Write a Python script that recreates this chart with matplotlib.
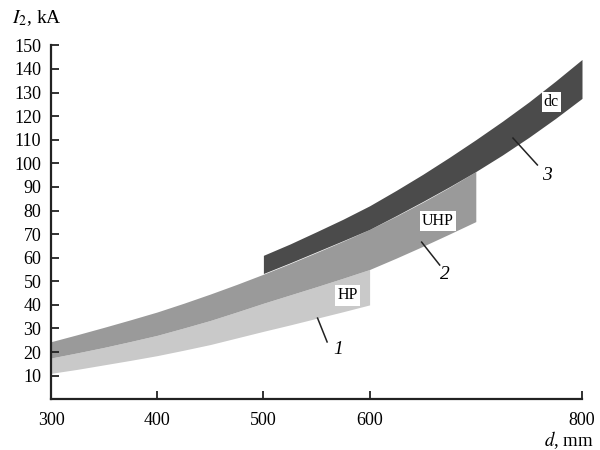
import matplotlib.pyplot as plt
import numpy as np

plt.rcParams['font.family'] = ['Liberation Serif', 'DejaVu Serif']
plt.rcParams['mathtext.fontset'] = 'stix'

# HP band (curve 1), d in mm, I2 in kA
hp_d = [300, 325, 350, 375, 400, 425, 450, 475, 500, 525, 550, 575, 600]
hp_low = [11.0, 12.7, 14.6, 16.5, 18.5, 20.8, 23.2, 26.0, 28.8, 31.5, 34.3, 37.1, 40.0]
hp_high = [17.5, 19.7, 22.0, 24.5, 27.1, 30.2, 33.4, 37.0, 40.7, 44.2, 47.7, 51.3, 55.0]

# UHP band (curve 2)
uhp_d = [300, 325, 350, 375, 400, 425, 450, 475, 500, 525, 550, 575, 600,
         625, 650, 675, 700]
uhp_low = [17.5, 19.7, 22.0, 24.5, 27.1, 30.2, 33.4, 37.0, 40.7, 44.2, 47.7, 51.3, 55.0,
           59.8, 64.8, 70.0, 75.3]
uhp_high = [24.4, 27.4, 30.5, 33.7, 37.0, 40.7, 44.6, 48.7, 53.0, 57.5, 62.2, 67.0, 72.0,
            77.6, 83.5, 89.8, 96.5]

# dc band (curve 3)
dc_d = [500, 525, 550, 575, 600, 625, 650, 675, 700, 725, 750, 775, 800]
dc_low = [53.3, 57.8, 62.5, 67.2, 72.0, 77.8, 83.8, 90.0, 96.5, 103.5, 111.0, 119.0, 127.5]
dc_high = [61.0, 65.8, 71.0, 76.3, 82.0, 88.5, 95.3, 102.5, 110.0, 117.8, 126.0, 134.8, 144.0]

x_ticks = [300, 400, 500, 600, 800]
y_ticks = list(range(10, 151, 10))

fig = plt.figure(figsize=(6, 4.5), dpi=100)
ax = fig.add_axes([0.085, 0.1127, 0.885, 0.7866])

ax.fill_between(hp_d, hp_low, hp_high, color='#c9c9c9', lw=0)
ax.fill_between(uhp_d, uhp_low, uhp_high, color='#9a9a9a', lw=0)
ax.fill_between(dc_d, dc_low, dc_high, color='#4b4b4b', lw=0)

ax.set_xlim(300, 800)
ax.set_ylim(0, 150)
ax.set_xticks(x_ticks)
ax.set_yticks(y_ticks)
ax.tick_params(direction='in', length=6, width=1.3, labelsize=13, color='#222222')
ax.tick_params(axis='y', pad=7)
ax.tick_params(axis='x', pad=9)
for s in ['top', 'right']:
    ax.spines[s].set_visible(False)
for s in ['left', 'bottom']:
    ax.spines[s].set_linewidth(1.6)
    ax.spines[s].set_color('#222222')

box = dict(facecolor='white', edgecolor='none', pad=1.5)
ax.text(579, 44, 'HP', ha='center', va='center', fontsize=11.5, bbox=box)
ax.text(664, 75.5, 'UHP', ha='center', va='center', fontsize=11.5, bbox=box)
ax.text(771, 126, 'dc', ha='center', va='center', fontsize=11.5, bbox=box)

# leader lines and curve numbers
ax.plot([551, 560], [34.4, 24.3], color='#222222', lw=1.1)
ax.text(570, 21, '1', style='italic', fontsize=14, ha='center', va='center')
ax.plot([649, 666], [66.6, 56.9], color='#222222', lw=1.1)
ax.text(671, 53, '2', style='italic', fontsize=14, ha='center', va='center')
ax.plot([735, 758], [110.7, 99.3], color='#222222', lw=1.1)
ax.text(767, 95, '3', style='italic', fontsize=14, ha='center', va='center')

fig.text(12 / 600, 1 - 18 / 450, r'$I_2$, kA', fontsize=14, ha='left', va='center')
fig.text(594 / 600, 1 - 440 / 450, r'$d$, mm', fontsize=13.5, ha='right', va='center')

fig.savefig('out.png', dpi=100)
